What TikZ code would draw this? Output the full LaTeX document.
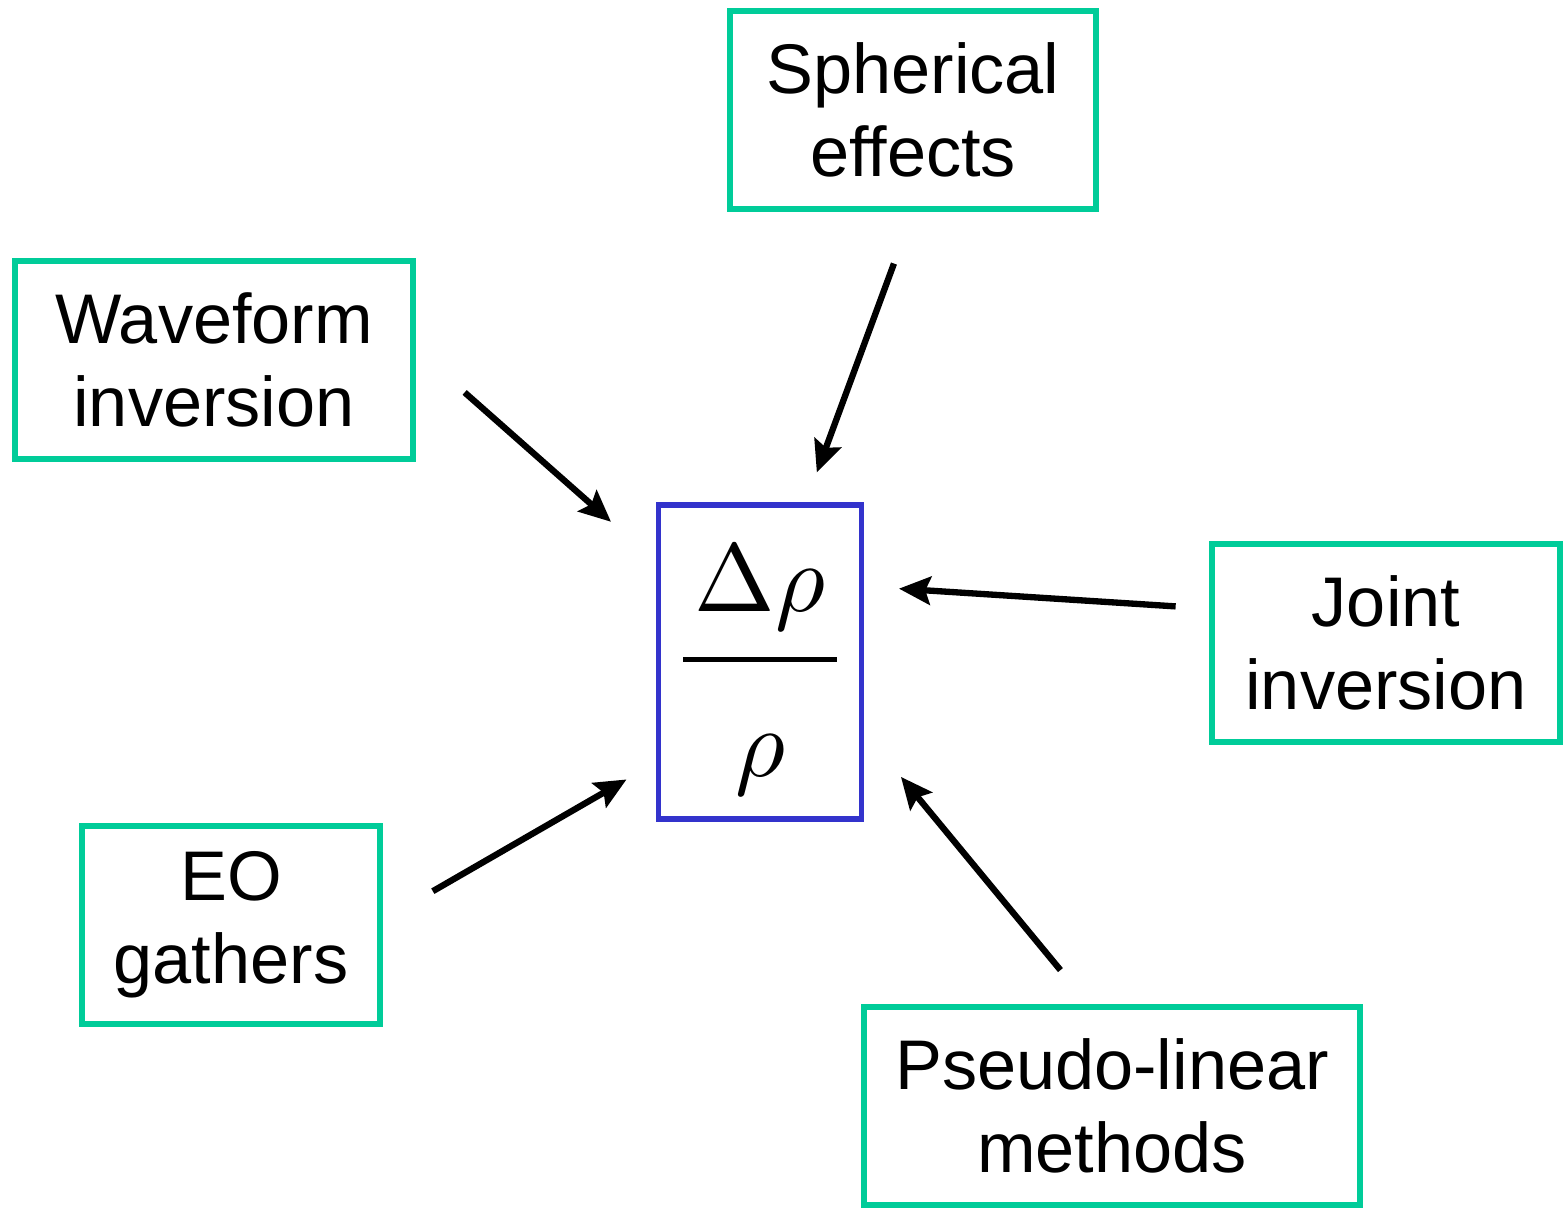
\documentclass[tikz,border=0pt]{standalone}
\usepackage{amsmath}
\usepackage{graphicx}
\usepackage{fontspec}
\setmainfont{Liberation Sans}
\usetikzlibrary{arrows.meta}
\definecolor{boxgreen}{RGB}{0,204,153}
\definecolor{boxblue}{RGB}{51,51,204}
\begin{document}
\begin{tikzpicture}[x=0.02cm,y=-0.02cm]
            \tikzstyle{source}=[draw=boxgreen,line width=3.4pt,minimum height=3.96cm,align=center,
              font=\fontsize{40}{47}\selectfont]
            \tikzstyle{feed}=[line width=3.6pt,-{Stealth[length=18pt,width=16pt,inset=3pt]}]
            \useasboundingbox (0,0) rectangle (1566,1209);
            \node[draw=boxblue,line width=2.9pt,minimum width=4.06cm,minimum height=6.28cm,inner sep=0pt](rho) at (760,662)
              {\scalebox{5.5}{$\genfrac{}{}{0.5pt}{0}{\hspace{1.2pt}\Delta\rho\hspace{1.2pt}\rule[-3.15pt]{0pt}{11.75pt}}{\rule{0pt}{10.4pt}\rho}$}};
            \node[source,minimum width=7.34cm](sph) at (913,110){Spherical\\effects};
            \node[source,minimum width=7.96cm](wf) at (214,360){Waveform\\inversion};
            \node[source,minimum width=6.98cm](joint) at (1386,643){Joint\\inversion};
            \node[source,minimum width=5.98cm](eo) at (231,925){EO\\gathers};
            \node[source,minimum width=9.94cm](pl) at (1112,1106){Pseudo-linear\\methods};
            \draw[feed,shorten <=1.1cm,shorten >=0.64cm] (sph.south) -- (rho.74);
            \draw[feed,shorten <=1.3cm,shorten >=1.2cm] (wf.3) -- (rho.136);
            \draw[feed,shorten <=0.66cm,shorten >=0.7cm] (joint.169) -- (rho.36);
            \draw[feed,shorten <=1.14cm,shorten >=0.68cm] (eo.2) -- (rho.224);
            \draw[feed,shorten <=0.88cm,shorten >=1.16cm] (pl.103) -- (rho.-34);
          \end{tikzpicture}
\end{document}
